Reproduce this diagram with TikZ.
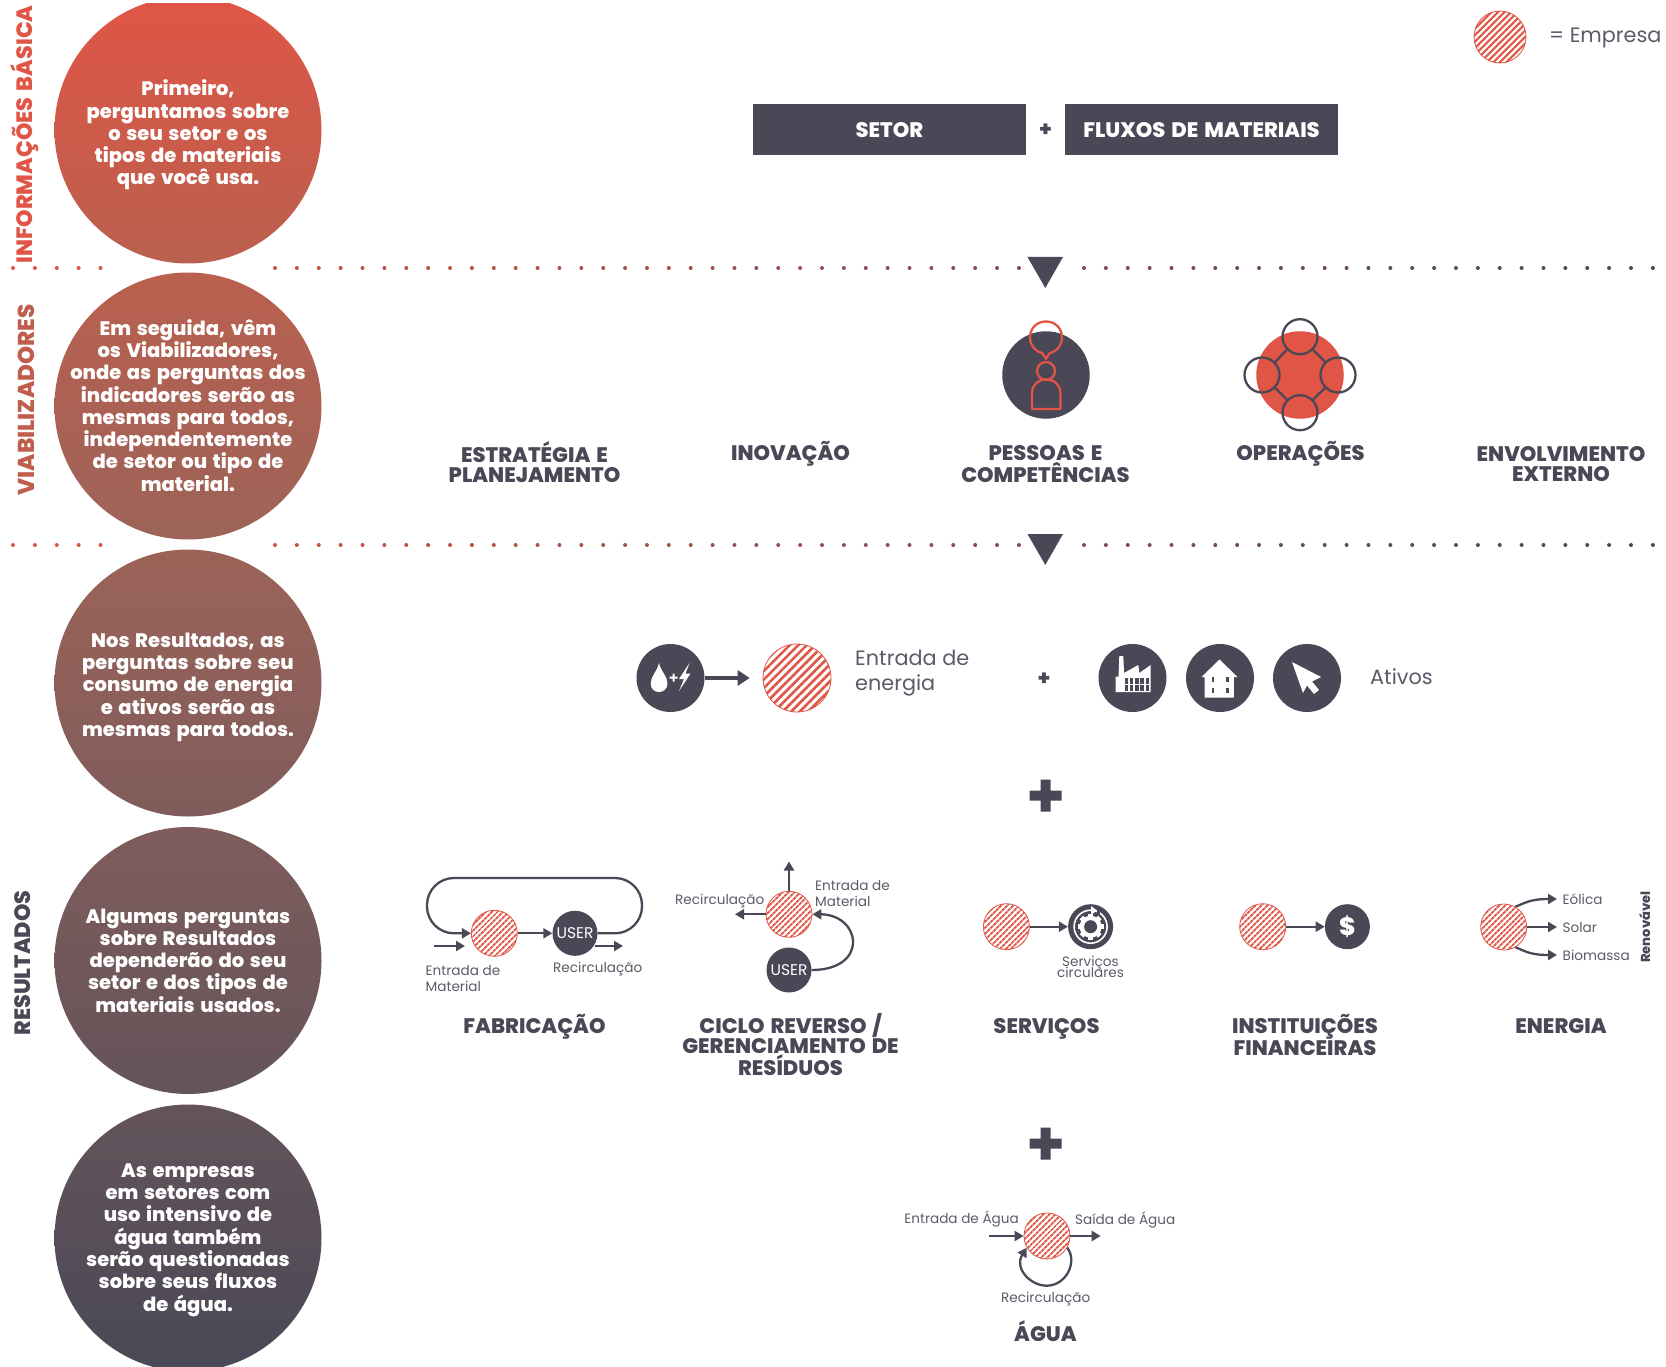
\documentclass[tikz,border=0pt]{standalone}
\usepackage{fontspec}
\setmainfont{Poppins}[BoldFont={Poppins ExtraBold},BoldFeatures={WordSpace=1.5}]
\usetikzlibrary{arrows.meta,patterns.meta}
\definecolor{coral}{HTML}{E05545}
\definecolor{ink}{HTML}{4A4857}
\definecolor{stagea}{HTML}{BA604F}
\definecolor{stageb}{HTML}{9C6358}
\definecolor{stagec}{HTML}{7F5C5B}
\definecolor{staged}{HTML}{64545A}
\tikzset{
  stagecircle/.style={circle,minimum size=267pt,inner sep=0pt},
  stagetext/.style={text=white,align=center,inner sep=0pt,font=\fontsize{19.5}{22.3}\selectfont\bfseries},
  sidelabel/.style={rotate=90,inner sep=0pt,font=\fontsize{22.2}{24}\selectfont\bfseries},
  titlelabel/.style={text=ink,align=center,inner sep=0pt,font=\fontsize{21}{20}\selectfont\bfseries},
  barbox/.style={fill=ink,text=white,minimum width=273pt,minimum height=51pt,inner sep=0pt,font=\fontsize{21}{22}\selectfont\bfseries},
  smalllabel/.style={text=ink!90,inner sep=0pt,align=left,font=\fontsize{13.6}{16.5}\selectfont},
  biglabel/.style={text=ink!90,inner sep=0pt,align=left,font=\fontsize{20.8}{25}\selectfont},
  empresa/.style={circle,draw=coral,line width=.8pt,minimum size=46pt,inner sep=0pt,pattern={Lines[angle=45,distance=4pt,line width=2pt]},pattern color=coral},
  empresabig/.style={empresa,minimum size=68pt,pattern={Lines[angle=45,distance=6pt,line width=2.6pt]},pattern color=coral},
  darkdisc/.style={circle,fill=ink,minimum size=68pt,inner sep=0pt},
  userdisc/.style={circle,fill=ink,text=white,minimum size=45pt,inner sep=0pt,font=\fontsize{15.5}{17}\selectfont},
  flow/.style={draw=ink,line width=2.3pt,-{Triangle[length=9pt,width=10pt]}},
  bigflow/.style={draw=ink,line width=3.4pt,-{Triangle[length=12pt,width=15pt]}},
  ringline/.style={draw=ink,line width=2.3pt},
}
\begin{document}
\begin{tikzpicture}[x=1pt,y=-1pt]
\useasboundingbox (0,0) rectangle (1666,1367);
\clip (0,4) rectangle (1666,1367);
% stages on the left
\node [stagecircle,top color=coral,bottom color=stagea] (infocircle) at (188,130) {};
\node [stagecircle,top color=stagea,bottom color=stageb] (viacircle) at (188,406) {};
\node [stagecircle,top color=stageb,bottom color=stagec] (rescircle) at (188,683) {};
\node [stagecircle,top color=stagec,bottom color=staged] (setorcircle) at (188,960.5) {};
\node [stagecircle,top color=staged,bottom color=ink] (aguacircle) at (188,1238) {};
\node [stagetext] (infotext) at (188,135) {Primeiro,\\perguntamos sobre\\o seu setor e os\\tipos de materiais\\que você usa.};
\node [stagetext] (viatext) at (188,405.3) {Em seguida, vêm\\os Viabilizadores,\\onde as perguntas dos\\indicadores serão as\\mesmas para todos,\\independentemente\\de setor ou tipo de\\material.};
\node [stagetext] (restext) at (188,687.3) {Nos Resultados, as\\perguntas sobre seu\\consumo de energia\\e ativos serão as\\mesmas para todos.};
\node [stagetext] (setortext) at (188,960.5) {Algumas perguntas\\sobre Resultados\\dependerão do seu\\setor e dos tipos de\\materiais usados.};
\node [stagetext] (aguatext) at (188,1240) {As empresas\\em setores com\\uso intensivo de\\água também\\serão questionadas\\sobre seus fluxos\\de água.};
\node [sidelabel,text=coral] (infolabel) at (25,134.5) {INFORMAÇÕES BÁSICA};
\node [sidelabel,text=stagea!85!coral,font=\fontsize{23}{24}\selectfont\bfseries] (vialabel) at (26,400) {VIABILIZADORES};
\node [sidelabel,text=ink] (reslabel) at (23,963) {RESULTADOS};
% dotted lines and triangles
\foreach \rowy in {268,545} {
  \foreach \dotx in {13,34.88,...,102,275,296.88,...,1020,1084,1105.88,...,1657} {
    \pgfmathsetmacro\dotmix{100-(\dotx-13)*0.0609}
    \fill [coral!\dotmix!ink] (\dotx,\rowy) circle (2pt);
  }
  \fill [ink] (1027.5,\rowy-11) -- (1063,\rowy-11) -- (1045.3,\rowy+20) -- cycle;
}
% legend
\node [empresa,minimum size=52pt,pattern={Lines[angle=45,distance=4.6pt,line width=2.2pt]},pattern color=coral] (legend) at (1500,37) {};
\node [biglabel,anchor=west] (legendtext) at (1549,38) {= Empresa};
% basic information
\node [barbox] (setor) at (889.5,130) {SETOR};
\node [barbox] (fluxos) at (1201.5,130) {FLUXOS DE MATERIAIS};
\node [titlelabel] (boxplus) at (1045.5,130) {+};
% enablers
\node [titlelabel] (estrategia) at (534.5,462) {ESTRATÉGIA E\\PLANEJAMENTO};
\node [titlelabel] (inovacao) at (790.5,454) {INOVAÇÃO};
\node [titlelabel] (pessoas) at (1045.5,464) {PESSOAS E\\COMPETÊNCIAS};
\node [titlelabel] (operacoes) at (1300.5,454) {OPERAÇÕES};
\node [titlelabel] (envolvimento) at (1561,464) {ENVOLVIMENTO\\EXTERNO};
\node [circle,fill=ink,minimum size=87.5pt,inner sep=0pt] (pessoasdisc) at (1046,375) {};
\draw [coral,line width=2.3pt,line join=round,fill=none] (1046,359) -- (1042.5,353.3) .. controls (1035.5,351.8) and (1030,345.5) .. (1030,337.5) .. controls (1030,328) and (1037,321.5) .. (1046,321.5) .. controls (1055,321.5) and (1062,328) .. (1062,337.5) .. controls (1062,345.5) and (1056.5,351.8) .. (1049.5,353.3) -- cycle;
\draw [coral,line width=2.3pt] (1046,371) circle (9pt);
\draw [coral,line width=2.3pt,line join=round] (1032,409) -- (1032,393) .. controls (1032,385) and (1038,379.5) .. (1046,379.5) .. controls (1054,379.5) and (1060.5,385) .. (1060.5,393) -- (1060.5,409) -- cycle;
\node [circle,fill=coral,minimum size=87.5pt,inner sep=0pt] (opdisc) at (1300,375) {};
\foreach \opname/\opx/\opy in {optop/1300/336.7,opright/1338/375,opbottom/1300/412.7,opleft/1262/375}
  \node [circle,ringline,minimum size=35pt,inner sep=0pt] (\opname) at (\opx,\opy) {};
\draw [ringline] (optop) -- (opright);
\draw [ringline] (opright) -- (opbottom);
\draw [ringline] (opbottom) -- (opleft);
\draw [ringline] (opleft) -- (optop);
% energy and assets
\node [darkdisc] (dropdisc) at (670.5,678) {};
\fill [white] (659,663) .. controls (661,672) and (667.5,676) .. (667.5,683.5) .. controls (667.5,689) and (663.5,692) .. (659,692) .. controls (654.5,692) and (650.7,689) .. (650.7,683.5) .. controls (650.7,676) and (657,672) .. (659,663) -- cycle;
\fill [white] (672.5,673.5) rectangle (674.5,681.5) (669.5,676.5) rectangle (677.5,678.5);
\fill [white] (689.5,663) -- (679,679) -- (684,679) -- (679,691) -- (690.5,673.5) -- (685.5,673.5) -- cycle;
\node [empresabig] (energyfirm) at (797,678) {};
\draw [bigflow,shorten >=12pt] (dropdisc) -- (energyfirm);
\node [biglabel,anchor=west] (energytext) at (855,673.5) {Entrada de\\energia};
\node [titlelabel] (assetplus) at (1044,679) {+};
\node [darkdisc] (factorydisc) at (1132.5,678) {};
\fill [white] (1115.7,692) -- (1115.7,676.7) -- (1118.5,676.7) -- (1119.3,656) -- (1123.3,656) -- (1124,673) -- (1138.3,665) -- (1139.3,673) -- (1150.7,665) -- (1150.7,692) -- cycle;
\foreach \winx in {1124.5,1129.8,...,1146}
  \foreach \winy in {678,685}
    \fill [ink] (\winx,\winy) rectangle ++(3.4,5.5);
\node [darkdisc] (housedisc) at (1220,678) {};
\fill [white] (1219.5,659.5) -- (1237.5,677) -- (1233.8,677) -- (1233.8,697.5) -- (1204.6,697.5) -- (1204.6,677) -- (1201.5,677) -- cycle;
\foreach \winx in {1211.5,1226}
  \foreach \winy in {677,688}
    \fill [ink] (\winx,\winy) rectangle ++(2.5,5);
\node [darkdisc] (cursordisc) at (1307,678) {};
\fill [white] (1292,662) -- (1321,677) -- (1312,681.5) -- (1319,690) -- (1314,694) -- (1307,685.5) -- (1303,693) -- cycle;
\node [biglabel,anchor=west] (assettext) at (1370,677) {Ativos};
% plus signs
\foreach \plusname/\plusy in {plusa/795.5,plusb/1143.5} {
  \coordinate (\plusname) at (1045.5,\plusy);
  \fill [ink] (1029.5,\plusy-5) rectangle (1061.5,\plusy+5) (1040.5,\plusy-16) rectangle (1050.5,\plusy+16);
}
% manufacturing
\node [empresa] (fabfirm) at (494.3,933.3) {};
\node [userdisc] (fabuser) at (575,933.3) {USER};
\draw [flow] (fabfirm) -- (fabuser);
\draw [flow,rounded corners=27pt] (fabuser.east) -- (642,933.3) -- (642,878) -- (427,878) -- (427,933.3) -- (fabfirm.west);
\coordinate (fabin) at (434,946);
\coordinate (fabinend) at (465,946);
\coordinate (fabout) at (595,946);
\coordinate (faboutend) at (623,946);
\draw [flow] (fabin) -- (fabinend);
\draw [flow] (fabout) -- (faboutend);
\node [smalllabel,anchor=north west] (fabintext) at (425.5,965) {Entrada de\\Material};
\node [smalllabel,anchor=west] (fabouttext) at (553,969) {Recirculação};
\node [titlelabel] (fabricacao) at (534.5,1027) {FABRICAÇÃO};
% reverse cycle
\node [empresa] (revfirm) at (789,914.3) {};
\node [userdisc] (revuser) at (789,970) {USER};
\coordinate (revup) at (789,861.5);
\coordinate (revleft) at (735,914.3);
\draw [flow] (revfirm) -- (revup);
\draw [flow] (revfirm) -- (revleft);
\draw [flow] (revuser.east) .. controls (838,970) and (853,958) .. (853,942) .. controls (853,926) and (838,914.3) .. (revfirm.east);
\node [smalllabel,anchor=west] (revouttext) at (675,901) {Recirculação};
\node [smalllabel,anchor=west] (revintext) at (815,893.5) {Entrada de\\Material};
\node [titlelabel] (ciclo) at (790.5,1044.5) {CICLO REVERSO /\\GERENCIAMENTO DE\\RESÍDUOS};
% services
\node [empresa] (servfirm) at (1006.4,926.7) {};
\node [userdisc] (servdisc) at (1090.6,926.7) {};
\draw [flow] (servfirm) -- (servdisc);
\draw [white,line width=1.6pt] (1090.6,926.7) circle (16.5pt);
\fill [white] (1090.6,926.7) circle (11pt);
\foreach \toothangle in {0,45,...,315}
  \fill [white,shift={(1090.6,926.7)},rotate=\toothangle] (10,-2.5) rectangle (13,2.5);
\fill [ink] (1090.6,926.7) circle (6.5pt);
\fill [ink] (1097,906) rectangle (1100,914);
\fill [white] (1097,910.5) -- (1091,906) -- (1091,915) -- cycle;
\node [smalllabel,align=center] (servtext) at (1090.5,966.7) {Serviços\\[-5.5pt]circulares};
\node [titlelabel] (servicos) at (1046.5,1029) {SERVIÇOS};
% financial institutions
\node [empresa] (finfirm) at (1262.7,926.7) {};
\node [userdisc,font=\fontsize{25}{25}\selectfont\bfseries] (findisc) at (1347.4,926.7) {\$};
\draw [flow] (finfirm) -- (findisc);
\node [titlelabel] (instituicoes) at (1305,1035) {INSTITUIÇÕES\\FINANCEIRAS};
% energy
\node [empresa] (enfirm) at (1503.7,927) {};
\coordinate (eolica) at (1557,899);
\coordinate (solar) at (1557,927);
\coordinate (biomassa) at (1557,955);
\draw [flow] (enfirm.60) .. controls (1525,903) and (1530,899) .. (eolica);
\draw [flow] (enfirm) -- (solar);
\draw [flow] (enfirm.-60) .. controls (1525,951) and (1530,955) .. (biomassa);
\node [smalllabel,anchor=west] (eolicatext) at (1562.5,899) {Eólica};
\node [smalllabel,anchor=west] (solartext) at (1562.5,927.5) {Solar};
\node [smalllabel,anchor=west] (biomassatext) at (1562.5,955) {Biomassa};
\node [rotate=90,text=ink,inner sep=0pt,font=\fontsize{13}{15}\selectfont\bfseries] (renovavel) at (1644.7,927) {Renovável};
\node [titlelabel] (energia) at (1561,1026) {ENERGIA};
% water
\node [empresa] (aguafirm) at (1047,1236) {};
\coordinate (aguain) at (989.3,1236);
\coordinate (aguaout) at (1100.7,1236);
\draw [flow] (aguain) -- (aguafirm);
\draw [flow] (aguafirm) -- (aguaout);
\draw [flow] (aguafirm.-30) .. controls (1078,1262) and (1066,1285.7) .. (1046.7,1285.7) .. controls (1030,1285.7) and (1014,1268) .. (aguafirm.210);
\node [smalllabel,anchor=east] (aguaintext) at (1019,1219) {Entrada de Água};
\node [smalllabel,anchor=west] (aguaouttext) at (1075,1220) {Saída de Água};
\node [smalllabel] (aguarectext) at (1045.7,1299) {Recirculação};
\node [titlelabel] (agua) at (1045.5,1331) {ÁGUA};
\end{tikzpicture}
\end{document}
